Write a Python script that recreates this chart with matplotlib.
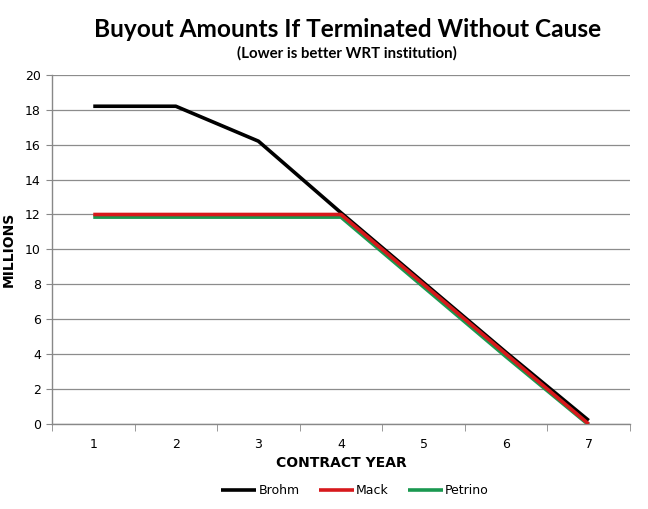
import matplotlib
matplotlib.use("Agg")
import matplotlib.pyplot as plt

years = [1, 2, 3, 4, 5, 6, 7]
year_labels = ["1", "2", "3", "4", "5", "6", "7"]
brohm = [18.2, 18.2, 16.2, 12.1, 8.1, 4.1, 0.2]
mack = [12.0, 12.0, 12.0, 12.0, 8.0, 4.0, 0.0]
petrino = [11.85, 11.85, 11.85, 11.85, 7.85, 3.85, -0.05]

fig = plt.figure(figsize=(6.48, 5.09), dpi=100)
ax = fig.add_axes([0.0802, 0.167, 0.892, 0.686])

ax.plot(years, brohm, color="#000000", lw=2.6, label="Brohm", solid_capstyle="butt", zorder=3)
ax.plot(years, mack, color="#d7191c", lw=2.6, label="Mack", solid_capstyle="butt", zorder=4)
ax.plot(years, petrino, color="#1a9850", lw=2.6, label="Petrino", solid_capstyle="butt", zorder=2)

ax.set_xlim(0.5, 7.5)
ax.set_ylim(0, 20)
ax.set_yticks(range(0, 21, 2))
ax.set_xticks(years)
ax.set_xticklabels(year_labels)
ax.set_xticks([0.5 + i for i in range(8)], minor=True)
ax.tick_params(axis="x", which="major", length=0, pad=10, labelsize=9)
ax.tick_params(axis="x", which="minor", length=5, color="#888888", direction="out")
ax.tick_params(axis="y", length=4, color="#888888", labelsize=9, pad=4)
ax.grid(axis="y", color="#8c8c8c", lw=0.9)
ax.set_axisbelow(True)
for s in ["top", "right"]:
    ax.spines[s].set_visible(False)
for s in ["left", "bottom"]:
    ax.spines[s].set_color("#888888")
    ax.spines[s].set_linewidth(1.0)

ax.set_ylabel("MILLIONS", fontsize=10, fontweight="bold")
ax.yaxis.set_label_coords(-0.062, 0.5)
ax.set_xlabel("CONTRACT YEAR", fontsize=10, fontweight="bold")
ax.xaxis.set_label_coords(0.5, -0.093)

fig.text(0.536, 0.943, "Buyout Amounts If Terminated Without Cause", ha="center", va="center",
         fontsize=17.6, fontweight="bold", family="Lato")
fig.text(0.536, 0.895, "(Lower is better WRT institution)", ha="center", va="center",
         fontsize=10.8, fontweight="bold", family="Lato")

fig.legend(loc="center", bbox_to_anchor=(0.548, 0.036), ncol=3, frameon=False, fontsize=9,
           handlelength=2.8, handletextpad=0.2, columnspacing=1.5)

fig.savefig("out.png", dpi=100)
